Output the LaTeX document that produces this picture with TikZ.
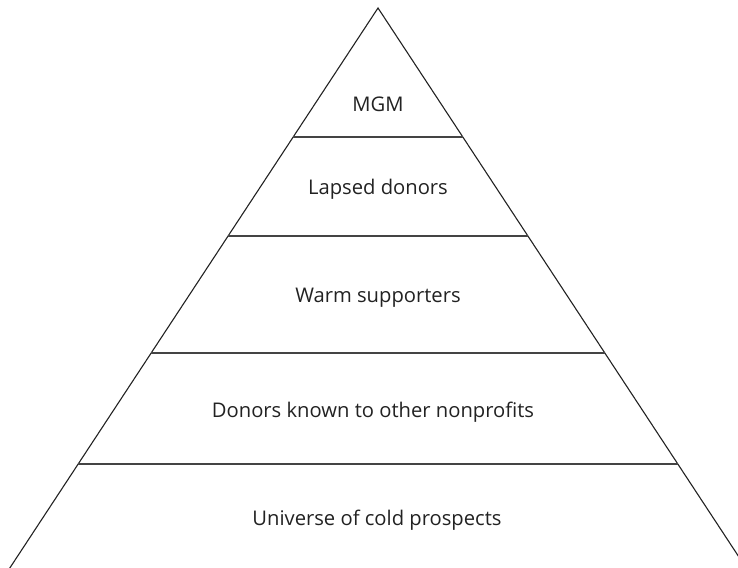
\documentclass[tikz,border=0pt]{standalone}
\usepackage{fontspec}
\setmainfont{Open Sans}
\definecolor{txt}{HTML}{222222}
\definecolor{sideline}{HTML}{222222}
\definecolor{bandline}{HTML}{444444}
\begin{document}
\begin{tikzpicture}[x=1pt,y=-1pt,
  lbl/.style={anchor=base,text=txt,font=\fontsize{20.2}{24}\selectfont,inner sep=0pt},
  side/.style={draw=sideline,line width=1.1pt},
  band/.style={draw=bandline,line width=1.3pt}]
\useasboundingbox (0,0) rectangle (738,567);
\coordinate (apex) at (378,8);
\coordinate (bl) at (8.5,570);
\coordinate (br) at (747.5,570);
\draw[side] (bl) -- (apex) -- (br);
% band lines
\foreach \name/\y in {l1/137,l2/236,l3/353,l4/464}{
  \coordinate (\name L) at ({378-(\y-8)*0.6585},\y);
  \coordinate (\name R) at ({378+(\y-8)*0.6585},\y);
  \draw[band] (\name L) -- (\name R);
}
\node[lbl] (mgm) at (378,112) {MGM};
\node[lbl] (lapsed) at (378,194) {Lapsed donors};
\node[lbl] (warm) at (378,302) {Warm supporters};
\node[lbl] (known) at (373,417) {Donors known to other nonprofits};
\node[lbl] (cold) at (377,525) {Universe of cold prospects};
\end{tikzpicture}
\end{document}
